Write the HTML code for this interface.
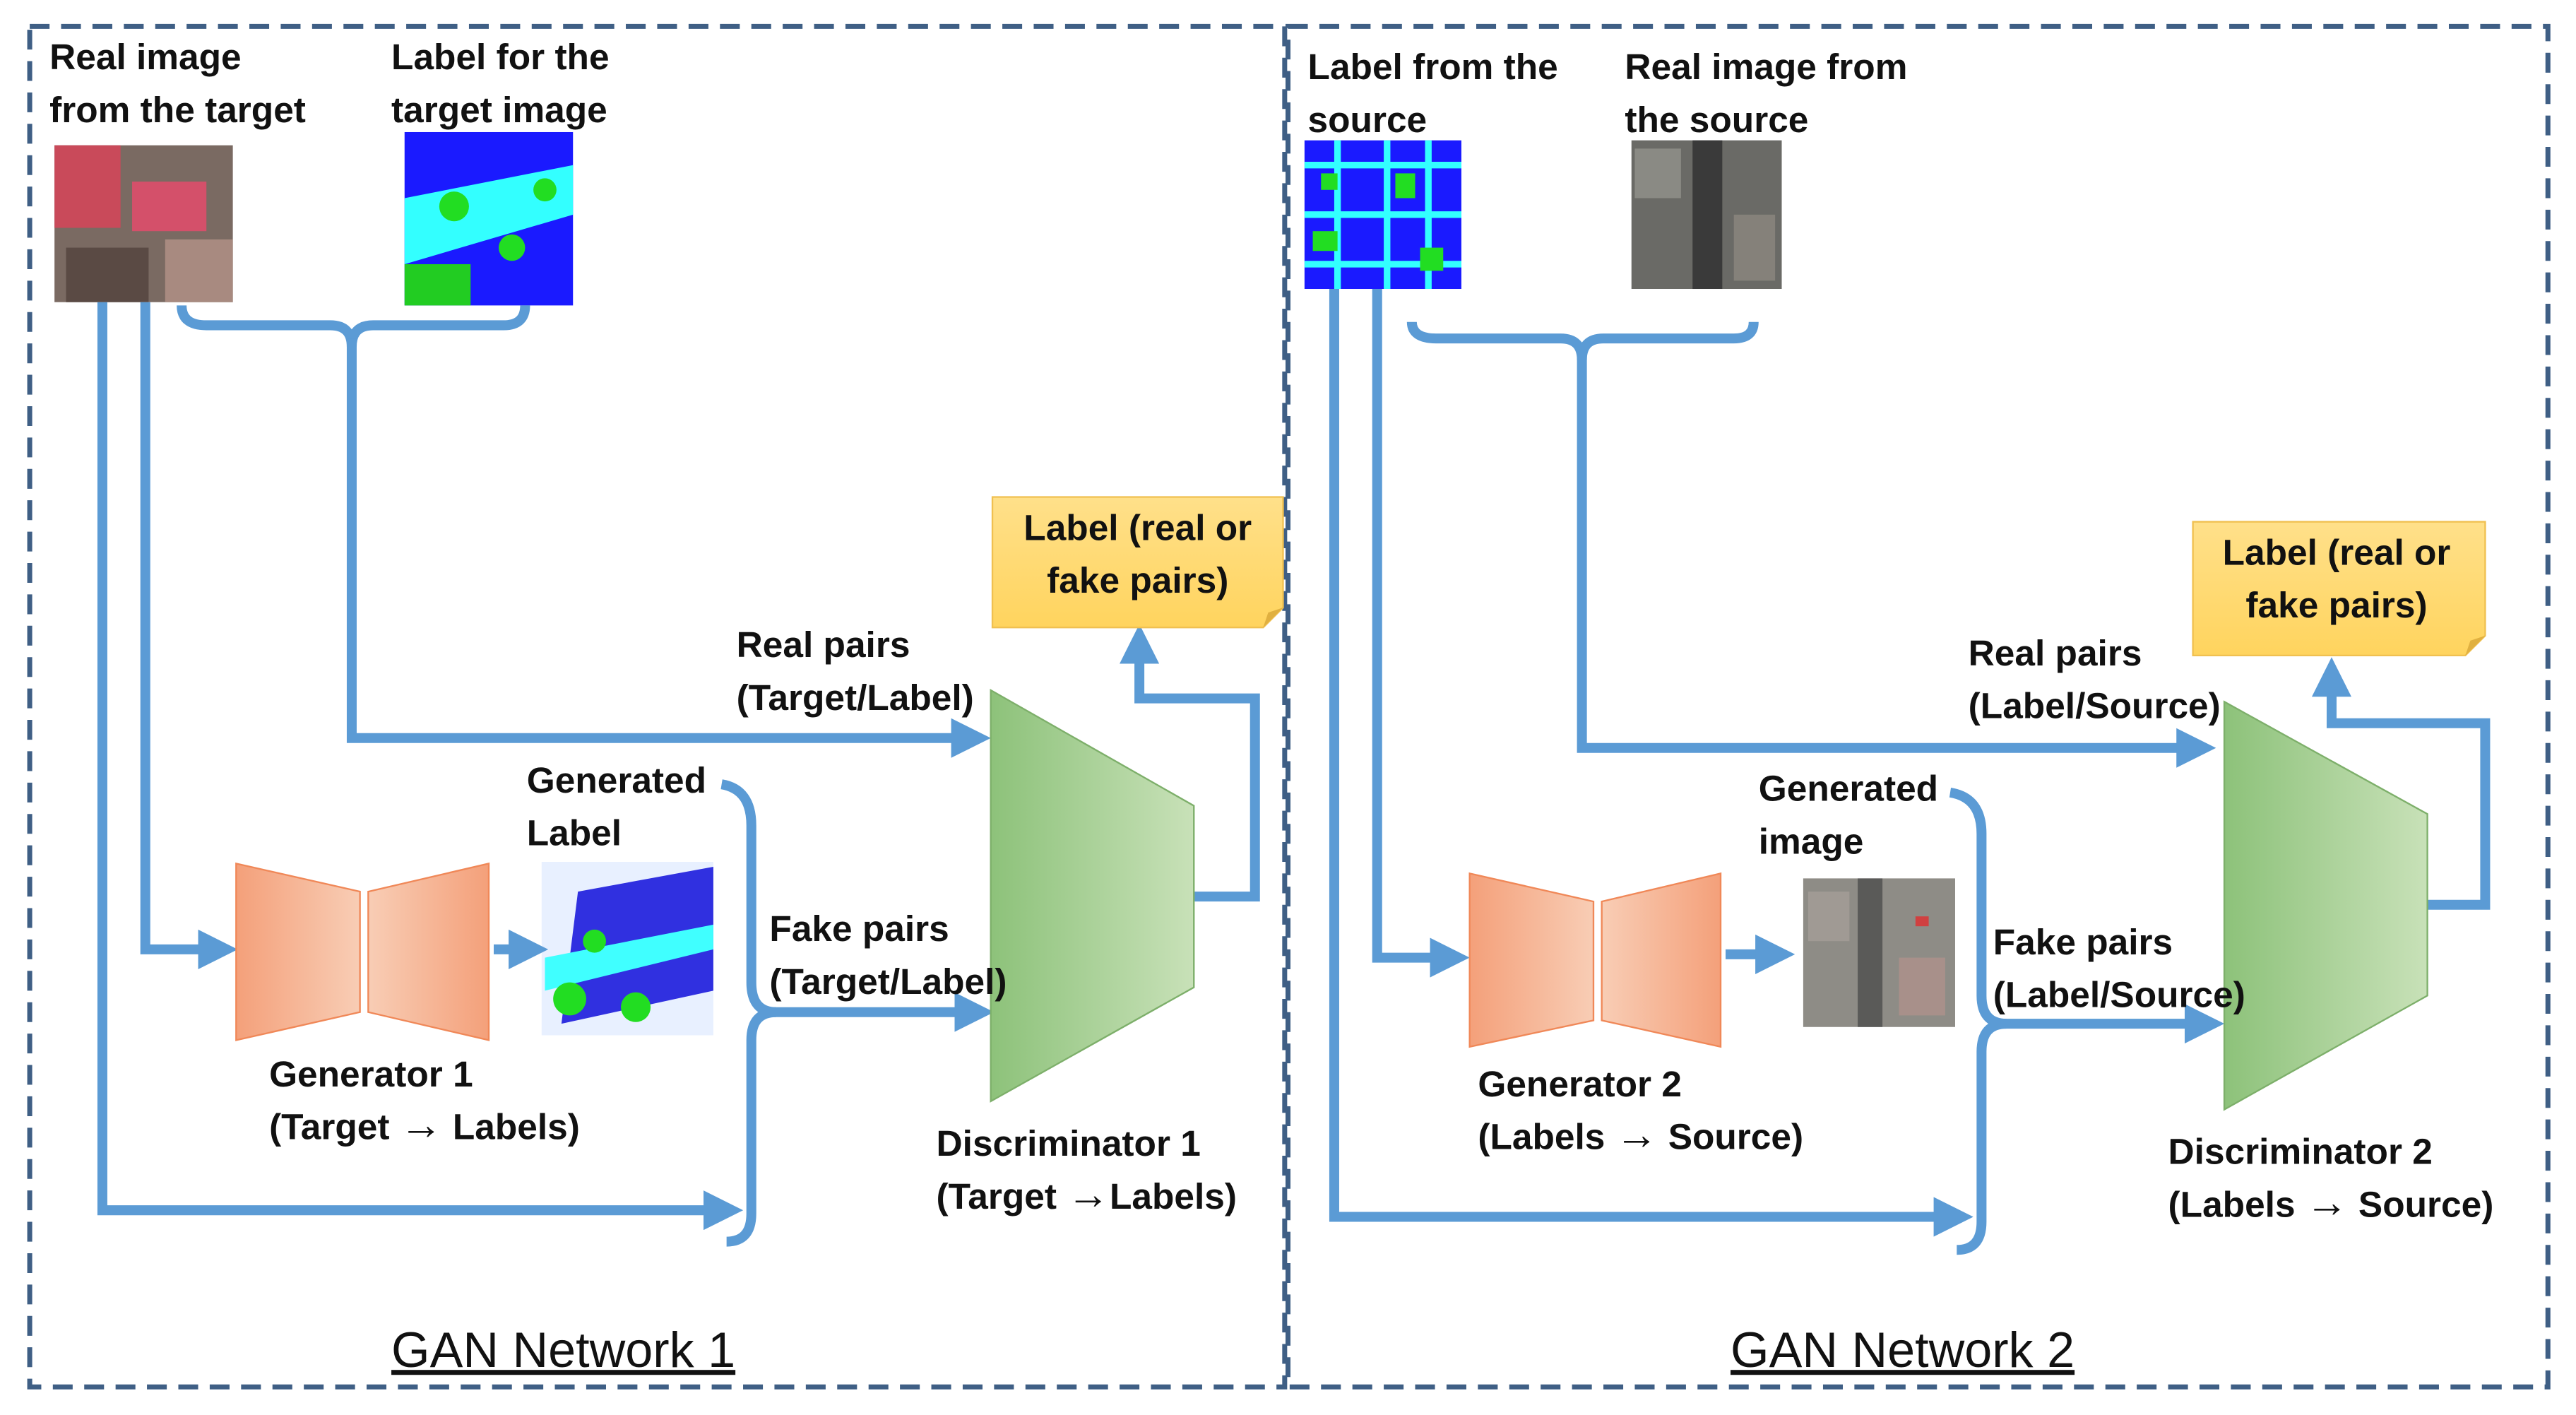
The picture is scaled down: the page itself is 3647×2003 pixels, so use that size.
<!DOCTYPE html>
<html><head><meta charset="utf-8"><style>
html,body{margin:0;padding:0;background:#fff;}
svg{display:block;}
text{font-family:"Liberation Sans",sans-serif;font-weight:bold;font-size:22px;fill:#111;}
.ar{font-size:26px;}
</style></head><body>
<svg width="3647" height="2003" viewBox="0 0 1560 857" preserveAspectRatio="none" xmlns="http://www.w3.org/2000/svg">
<defs>
<linearGradient id="og1" x1="0" x2="1"><stop offset="0" stop-color="#F4A07A"/><stop offset="1" stop-color="#F8CDB5"/></linearGradient>
<linearGradient id="og2" x1="1" x2="0"><stop offset="0" stop-color="#F4A07A"/><stop offset="1" stop-color="#F8CDB5"/></linearGradient>
<linearGradient id="gg" x1="0" x2="1"><stop offset="0" stop-color="#8DC27A"/><stop offset="1" stop-color="#C8E1B8"/></linearGradient>
<linearGradient id="yg" x1="0" y1="0" x2="0" y2="1"><stop offset="0" stop-color="#FFE08A"/><stop offset="1" stop-color="#FFD45E"/></linearGradient>
<marker id="ah" markerWidth="4" markerHeight="4" refX="2" refY="2" orient="auto" markerUnits="strokeWidth"><path d="M0,0 L4,2 L0,4 z" fill="#5B9BD5"/></marker>
</defs>
<g fill="none" stroke="#3F5F85" stroke-width="3" stroke-dasharray="12,7">
<rect x="18" y="16" width="760" height="824"/>
<rect x="780" y="16" width="763" height="824"/>
</g>
<rect x="33" y="88" width="108" height="95" fill="#7a6a62"/>
<rect x="33" y="88" width="40" height="50" fill="#c94a5a"/>
<rect x="80" y="110" width="45" height="30" fill="#d4506a"/>
<rect x="40" y="150" width="50" height="33" fill="#5a4a44"/>
<rect x="100" y="145" width="41" height="38" fill="#a88a80"/>
<rect x="245" y="80" width="102" height="105" fill="#1a1aff"/>
<polygon points="245,120 347,100 347,130 245,160" fill="#33ffff"/>
<rect x="245" y="160" width="40" height="25" fill="#22cc22"/>
<circle cx="275" cy="125" r="9" fill="#22dd22"/><circle cx="310" cy="150" r="8" fill="#22dd22"/><circle cx="330" cy="115" r="7" fill="#22dd22"/>
<rect x="328" y="522" width="104" height="105" fill="#e8f0ff"/>
<polygon points="350,540 432,525 432,600 340,620" fill="#3030e0"/>
<polygon points="330,580 432,560 432,575 330,600" fill="#40ffff"/>
<circle cx="345" cy="605" r="10" fill="#22dd22"/><circle cx="385" cy="610" r="9" fill="#22dd22"/><circle cx="360" cy="570" r="7" fill="#22dd22"/>
<rect x="790" y="85" width="95" height="90" fill="#1a1aff"/>
<g stroke="#33ffff" stroke-width="4"><path d="M790,100 H885 M790,130 H885 M790,160 H885 M810,85 V175 M840,85 V175 M865,85 V175"/></g>
<g fill="#22dd22"><rect x="795" y="140" width="15" height="12"/><rect x="845" y="105" width="12" height="15"/><rect x="800" y="105" width="10" height="10"/><rect x="860" y="150" width="14" height="14"/></g>
<rect x="988" y="85" width="91" height="90" fill="#6a6a66"/>
<rect x="1025" y="85" width="18" height="90" fill="#3a3a3a"/>
<rect x="990" y="90" width="28" height="30" fill="#8a8a84"/><rect x="1050" y="130" width="25" height="40" fill="#85817a"/>
<rect x="1092" y="532" width="92" height="90" fill="#8e8c86"/>
<rect x="1125" y="532" width="15" height="90" fill="#5a5a58"/>
<rect x="1095" y="540" width="25" height="30" fill="#a09a94"/><rect x="1150" y="580" width="28" height="35" fill="#a8908a"/>
<rect x="1160" y="555" width="8" height="6" fill="#d04040"/>
<g fill="none" stroke="#5B9BD5" stroke-width="6">
<path d="M110,185 Q110,197 125,197 H200 Q213,197 213,210 Q213,197 226,197 H305 Q318,197 318,185"/>
<path d="M213,205 V447 H588" marker-end="url(#ah)"/>
<path d="M62,183 V733 H438" marker-end="url(#ah)"/>
<path d="M88,183 V575 H132" marker-end="url(#ah)"/>
<path d="M299,575 H320" marker-end="url(#ah)"/>
<path d="M437,475 Q455,478 455,500 V595 Q455,613 470,613 Q455,613 455,630 V735 Q455,752 440,752"/>
<path d="M465,613 H590" marker-end="url(#ah)"/>
<path d="M723,543 H760 V423 H690 V390" marker-end="url(#ah)"/>
<path d="M855,195 Q855,205 870,205 H945 Q958,205 958,218 Q958,205 971,205 H1050 Q1062,205 1062,195"/>
<path d="M958,212 V453 H1330" marker-end="url(#ah)"/>
<path d="M808,175 V737 H1183" marker-end="url(#ah)"/>
<path d="M834,175 V580 H878" marker-end="url(#ah)"/>
<path d="M1045,578 H1075" marker-end="url(#ah)"/>
<path d="M1181,480 Q1200,483 1200,505 V603 Q1200,620 1215,620 Q1200,620 1200,637 V740 Q1200,757 1185,757"/>
<path d="M1210,620 H1335" marker-end="url(#ah)"/>
<path d="M1470,548 H1505 V438 H1412 V410" marker-end="url(#ah)"/>
</g>
<polygon points="143,523 218,540 218,613 143,630" fill="url(#og1)" stroke="#F08858" stroke-width="1"/>
<polygon points="223,540 296,523 296,630 223,613" fill="url(#og2)" stroke="#F08858" stroke-width="1"/>
<polygon points="890,529 965,546 965,618 890,634" fill="url(#og1)" stroke="#F08858" stroke-width="1"/>
<polygon points="970,546 1042,529 1042,634 970,618" fill="url(#og2)" stroke="#F08858" stroke-width="1"/>
<polygon points="600,418 723,488 723,598 600,667" fill="url(#gg)" stroke="#7DAF6A" stroke-width="1"/>
<polygon points="1347,425 1470,493 1470,603 1347,672" fill="url(#gg)" stroke="#7DAF6A" stroke-width="1"/>
<path d="M601,301 H777 V368 L765,380 H601 Z" fill="url(#yg)" stroke="#F0C050" stroke-width="1"/>
<path d="M765,380 L768,371 L777,368" fill="#E0B040"/>
<path d="M1328,316 H1505 V385 L1493,397 H1328 Z" fill="url(#yg)" stroke="#F0C050" stroke-width="1"/>
<path d="M1493,397 L1496,388 L1505,385" fill="#E0B040"/>
<text x="30" y="42">Real image</text><text x="30" y="74">from the target</text>
<text x="237" y="42">Label for  the</text><text x="237" y="74">target image</text>
<text x="319" y="480">Generated</text><text x="319" y="512">Label</text>
<text x="446" y="398">Real pairs</text><text x="446" y="430">(Target/Label)</text>
<text x="466" y="570">Fake pairs</text><text x="466" y="602">(Target/Label)</text>
<text x="163" y="658">Generator 1</text><text x="163" y="690">(Target <tspan class="ar">→</tspan> Labels)</text>
<text x="567" y="700">Discriminator 1</text><text x="567" y="732">(Target <tspan class="ar">→</tspan>Labels)</text>
<text x="689" y="327" text-anchor="middle">Label (real or</text><text x="689" y="359" text-anchor="middle">fake pairs)</text>
<text x="237" y="828" text-decoration="underline" style="font-size:30px;font-weight:normal">GAN Network 1</text>
<text x="792" y="48">Label from the</text><text x="792" y="80">source</text>
<text x="984" y="48">Real image from</text><text x="984" y="80">the source</text>
<text x="1065" y="485">Generated</text><text x="1065" y="517">image</text>
<text x="1192" y="403">Real pairs</text><text x="1192" y="435">(Label/Source)</text>
<text x="1207" y="578">Fake pairs</text><text x="1207" y="610">(Label/Source)</text>
<text x="895" y="664">Generator 2</text><text x="895" y="696">(Labels <tspan class="ar">→</tspan> Source)</text>
<text x="1313" y="705">Discriminator 2</text><text x="1313" y="737">(Labels <tspan class="ar">→</tspan> Source)</text>
<text x="1415" y="342" text-anchor="middle">Label (real or</text><text x="1415" y="374" text-anchor="middle">fake pairs)</text>
<text x="1048" y="828" text-decoration="underline" style="font-size:30px;font-weight:normal">GAN Network 2</text>
</svg>
</body></html>
